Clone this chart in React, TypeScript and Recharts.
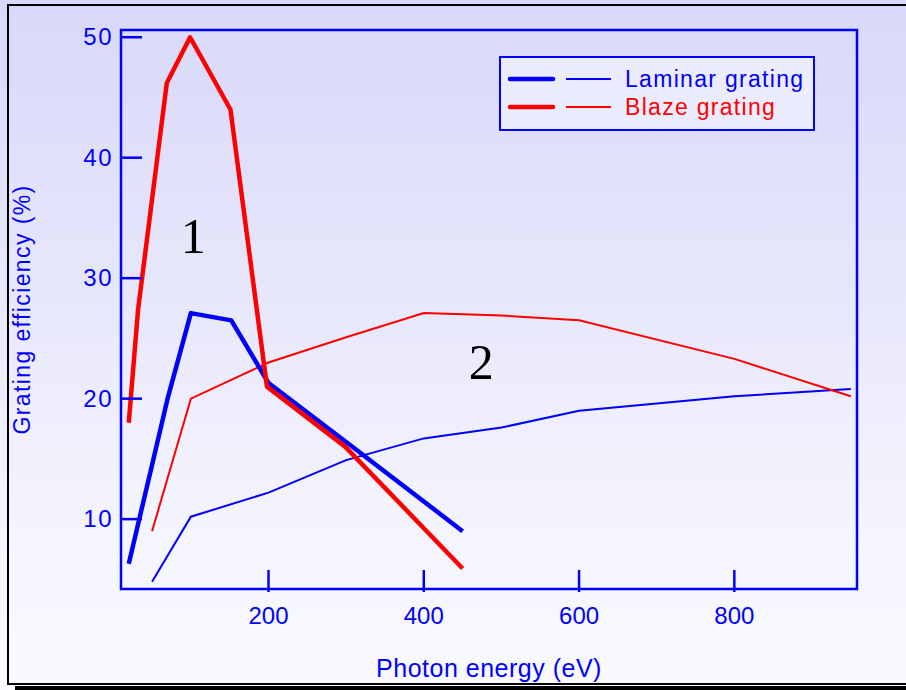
import React from 'react';
import { LineChart, Line, XAxis, YAxis, ReferenceArea, ReferenceDot, Legend, Label } from 'recharts';

const xTicks = [200, 400, 600, 800];
const yTicks = [10, 20, 30, 40, 50];

const laminar1X = [20, 50, 70, 100, 152, 200, 300, 450];
const laminar1Y = [6.3, 14.5, 20.0, 27.1, 26.5, 21.3, 16.4, 9.0];
const blaze1X = [20, 32, 69, 99, 151, 198, 299, 450];
const blaze1Y = [18.0, 27.4, 46.2, 50.0, 44.0, 21.0, 16.0, 5.9];
const laminar2X = [50, 100, 200, 300, 400, 500, 600, 800, 950];
const laminar2Y = [4.8, 10.2, 12.2, 14.9, 16.7, 17.6, 19.0, 20.2, 20.8];
const blaze2X = [50, 100, 200, 300, 400, 500, 600, 800, 950];
const blaze2Y = [9.0, 20.0, 23.0, 25.1, 27.1, 26.9, 26.5, 23.3, 20.2];

const annotations = [
  { text: '1', x: 103, y: 33.6 },
  { text: '2', x: 474, y: 23.1 },
];

const legendItems = [
  { name: 'Laminar grating', color: '#0000ff' },
  { name: 'Blaze grating', color: '#ff0000' },
];

const X_DOMAIN: [number, number] = [10, 958];
const Y_DOMAIN: [number, number] = [4.2, 50.6];

const toPts = (xs: number[], ys: number[]) => xs.map((x, i) => ({ x, y: ys[i] }));

const BLUE = '#0000ff';
const RED = '#ff0000';
const FONT = 'Arial, "Liberation Sans", sans-serif';

const YTick = (props: any) => {
  const { x, y, payload } = props;
  return (
    <g>
      <line x1={x} x2={x + 21} y1={y} y2={y} stroke={BLUE} strokeWidth={2.5} />
      <text x={x - 8} y={y + 8} textAnchor="end" fill={BLUE} fontSize={24} letterSpacing={1.5} fontFamily={FONT}>
        {payload.value}
      </text>
    </g>
  );
};

const XTick = (props: any) => {
  const { x, y, payload } = props;
  return (
    <g>
      <line x1={x} x2={x} y1={y - 19} y2={y + 3} stroke={BLUE} strokeWidth={2.5} />
      <text x={x} y={y + 35} textAnchor="middle" fill={BLUE} fontSize={24} fontFamily={FONT}>
        {payload.value}
      </text>
    </g>
  );
};

const LegendBox = () => (
  <div
    style={{
      width: 316,
      height: 75,
      boxSizing: 'border-box',
      border: `2px solid ${BLUE}`,
      background: '#ececff',
      position: 'relative',
    }}
  >
    <svg width={312} height={71} style={{ position: 'absolute', left: 0, top: 0 }}>
      {legendItems.map((it, i) => {
        const cy = 21 + i * 28;
        return (
          <g key={it.name}>
            <line x1={9} x2={52} y1={cy} y2={cy} stroke={it.color} strokeWidth={4.5} strokeLinecap="round" />
            <line x1={65} x2={110} y1={cy} y2={cy} stroke={it.color} strokeWidth={2} />
            <text x={124} y={cy + 8} fill={it.color} fontSize={23} letterSpacing={1.3} fontFamily={FONT}>
              {it.name}
            </text>
          </g>
        );
      })}
    </svg>
  </div>
);

export default function App() {
  return (
    <div
      style={{
        position: 'absolute',
        left: 0,
        top: 0,
        width: 906,
        height: 690,
        overflow: 'hidden',
        background: 'linear-gradient(180deg, #d8d8fa 0%, #e6e6fb 40%, #f4f4fe 75%, #f9f9ff 100%)',
      }}
    >
      <div
        style={{
          position: 'absolute',
          left: 7,
          top: 4,
          width: 920,
          height: 681,
          boxSizing: 'border-box',
          border: '2px solid #000',
        }}
      />
      <div style={{ position: 'absolute', left: 15, top: 686, width: 900, height: 4, background: '#000' }} />
      <div style={{ position: 'absolute', left: 0, top: 0 }}>
        <LineChart width={906} height={690} margin={{ top: 30, right: 49, left: 0, bottom: 0 }}>
          <XAxis
            dataKey="x"
            type="number"
            domain={X_DOMAIN}
            ticks={xTicks}
            allowDataOverflow
            height={101}
            axisLine={false}
            tickLine={false}
            tickSize={0}
            tickMargin={0}
            tick={<XTick />}
            interval={0}
          >
            <Label
              content={(p: any) => {
                const vb = p.viewBox;
                return (
                  <text
                    x={vb.x + vb.width / 2}
                    y={vb.y + 88}
                    textAnchor="middle"
                    fill={BLUE}
                    fontSize={25}
                    letterSpacing={0.5}
                    fontFamily={FONT}
                  >
                    Photon energy (eV)
                  </text>
                );
              }}
            />
          </XAxis>
          <YAxis
            type="number"
            domain={Y_DOMAIN}
            ticks={yTicks}
            allowDataOverflow
            width={121}
            axisLine={false}
            tickLine={false}
            tickSize={0}
            tickMargin={0}
            tick={<YTick />}
            interval={0}
          >
            <Label
              content={(p: any) => {
                const vb = p.viewBox;
                const cx = vb.x + 22;
                const cy = vb.y + vb.height / 2;
                return (
                  <text
                    x={cx}
                    y={cy}
                    transform={`rotate(-90 ${cx} ${cy})`}
                    textAnchor="middle"
                    dominantBaseline="central"
                    fill={BLUE}
                    fontSize={23}
                    letterSpacing={1.4}
                    fontFamily={FONT}
                  >
                    Grating efficiency (%)
                  </text>
                );
              }}
            />
          </YAxis>
          <ReferenceArea
            x1={X_DOMAIN[0]}
            x2={X_DOMAIN[1]}
            y1={Y_DOMAIN[0]}
            y2={Y_DOMAIN[1]}
            fill="none"
            stroke={BLUE}
            strokeWidth={2.5}
            fillOpacity={0}
            ifOverflow="visible"
          />
          <Line data={toPts(laminar2X, laminar2Y)} dataKey="y" stroke={BLUE} strokeWidth={2} dot={false} isAnimationActive={false} name="Laminar grating 2" />
          <Line data={toPts(blaze2X, blaze2Y)} dataKey="y" stroke={RED} strokeWidth={2} dot={false} isAnimationActive={false} name="Blaze grating 2" />
          <Line data={toPts(laminar1X, laminar1Y)} dataKey="y" stroke={BLUE} strokeWidth={4.5} dot={false} isAnimationActive={false} strokeLinejoin="round" name="Laminar grating" />
          <Line data={toPts(blaze1X, blaze1Y)} dataKey="y" stroke={RED} strokeWidth={4.5} dot={false} isAnimationActive={false} strokeLinejoin="round" name="Blaze grating" />
          {annotations.map((a) => (
            <ReferenceDot key={a.text} x={a.x} y={a.y} r={0} fill="none" stroke="none" ifOverflow="visible">
              <Label value={a.text} position="center" fill="#000" fontSize={50} fontFamily='"Liberation Serif", "Times New Roman", serif' />
            </ReferenceDot>
          ))}
          <Legend
            layout="vertical"
            align="center"
            verticalAlign="middle"
            content={<LegendBox />}
            wrapperStyle={{ left: 499, top: 56, width: 316, height: 75 }}
          />
        </LineChart>
      </div>
    </div>
  );
}
